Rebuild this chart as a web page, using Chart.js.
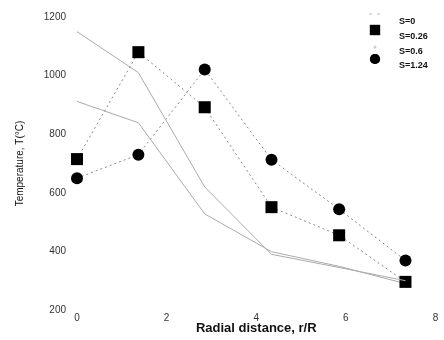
<!DOCTYPE html>
<html>
<head>
<meta charset="utf-8">
<script src="https://cdn.jsdelivr.net/npm/chart.js"></script>
<style>
  html, body { margin: 0; padding: 0; background: #fff; }
  #wrap { width: 444px; height: 340px; }
</style>
</head>
<body>
<div id="wrap"><canvas id="tempChart" width="444" height="340"></canvas></div>
<script>
// 반경 위치 (r/R)
const radialPos = [0, 1.37, 2.85, 4.34, 5.85, 7.33];

// 각 S 값별 온도 (°C)
const tempS0 = [1150, 1010, 620, 390, 345, 300];
const tempS026 = [715, 1080, 892, 551, 455, 296];
const tempS06 = [912, 839, 528, 399, 349, 290];
const tempS124 = [650, 730, 1021, 713, 544, 369];

const seriesLabels = ['S=0', 'S=0.26', 'S=0.6', 'S=1.24'];
const xTicks = [0, 2, 4, 6, 8];
const yTicks = [200, 400, 600, 800, 1000, 1200];

const baseFont = '"Liberation Sans", Arial, sans-serif';

function toPoints(values) {
    return values.map((v, i) => ({ x: radialPos[i], y: v }));
}

// 범례를 오른쪽 위에 직접 그림
const legendPlugin = {
    id: 'cornerLegend',
    afterDraw(chart) {
        const ctx = chart.ctx;
        const rows = [
            { my: 14, ty: 22 },
            { my: 30, ty: 37 },
            { my: 47, ty: 52 },
            { my: 59, ty: 66 }
        ];
        ctx.save();
        rows.forEach((row, i) => {
            const ds = chart.data.datasets[i];
            if (i === 0) {
                // 선만 있는 계열: 점선 조각
                ctx.strokeStyle = '#bbb';
                ctx.lineWidth = 1;
                ctx.setLineDash([3, 5]);
                ctx.beginPath();
                ctx.moveTo(369, row.my);
                ctx.lineTo(384, row.my);
                ctx.stroke();
                ctx.setLineDash([]);
            } else if (i === 2) {
                ctx.fillStyle = '#ccc';
                ctx.beginPath();
                ctx.arc(375, row.my, 1.5, 0, Math.PI * 2);
                ctx.fill();
            } else {
                ctx.beginPath();
                Chart.helpers.drawPoint(ctx, {
                    pointStyle: ds.pointStyle,
                    radius: ds.pointRadius * 0.85,
                    borderWidth: 0
                }, 375, row.my);
                ctx.fillStyle = ds.pointBackgroundColor;
                ctx.fill();
            }
            ctx.fillStyle = '#111';
            ctx.font = 'bold 9px ' + baseFont;
            ctx.textAlign = 'left';
            ctx.textBaseline = 'middle';
            ctx.fillText(ds.label, 399, row.ty);
        });
        ctx.restore();
    }
};

const ctx = document.getElementById('tempChart').getContext('2d');
new Chart(ctx, {
    type: 'line',
    data: {
        datasets: [
            {
                label: seriesLabels[0],
                data: toPoints(tempS0),
                borderColor: '#aaa',
                borderWidth: 1,
                pointRadius: 0
            },
            {
                label: seriesLabels[1],
                data: toPoints(tempS026),
                borderColor: '#888',
                borderWidth: 1,
                borderDash: [2, 3],
                pointStyle: 'rect',
                pointRadius: 8.5,
                pointBackgroundColor: '#000',
                pointBorderWidth: 0
            },
            {
                label: seriesLabels[2],
                data: toPoints(tempS06),
                borderColor: '#aaa',
                borderWidth: 1,
                pointRadius: 0
            },
            {
                label: seriesLabels[3],
                data: toPoints(tempS124),
                borderColor: '#888',
                borderWidth: 1,
                borderDash: [2, 3],
                pointStyle: 'circle',
                pointRadius: 6,
                pointBackgroundColor: '#000',
                pointBorderWidth: 0
            }
        ]
    },
    options: {
        responsive: false,
        animation: false,
        clip: false,
        layout: { padding: { top: 8, right: 6, left: 0, bottom: 0 } },
        plugins: {
            legend: { display: false },
            tooltip: { enabled: false }
        },
        scales: {
            x: {
                type: 'linear',
                min: 0,
                max: 8,
                afterBuildTicks(scale) {
                    scale.ticks = xTicks.map(v => ({ value: v }));
                },
                afterFit(scale) { scale.height = 30; },
                grid: { display: false, drawTicks: false },
                border: { display: false },
                ticks: {
                    padding: 2,
                    color: '#333',
                    callback: v => String(v),
                    font: { family: baseFont, size: 10 }
                },
                title: {
                    display: true,
                    text: 'Radial distance, r/R',
                    color: '#111',
                    padding: { top: 0, bottom: 4 },
                    font: { family: baseFont, size: 13, weight: 'bold' }
                }
            },
            y: {
                min: 200,
                max: 1200,
                afterBuildTicks(scale) {
                    scale.ticks = yTicks.map(v => ({ value: v }));
                },
                afterFit(scale) { scale.width = 77; },
                grid: { display: false, drawTicks: false },
                border: { display: false },
                ticks: {
                    padding: 11,
                    color: '#333',
                    callback: v => String(v),
                    font: { family: baseFont, size: 10 }
                },
                title: {
                    display: true,
                    text: 'Temperature, T(\u00b0C)',
                    color: '#111',
                    padding: { top: 14, bottom: 0 },
                    font: { family: baseFont, size: 10 }
                }
            }
        }
    },
    plugins: [legendPlugin]
});
</script>
</body>
</html>
